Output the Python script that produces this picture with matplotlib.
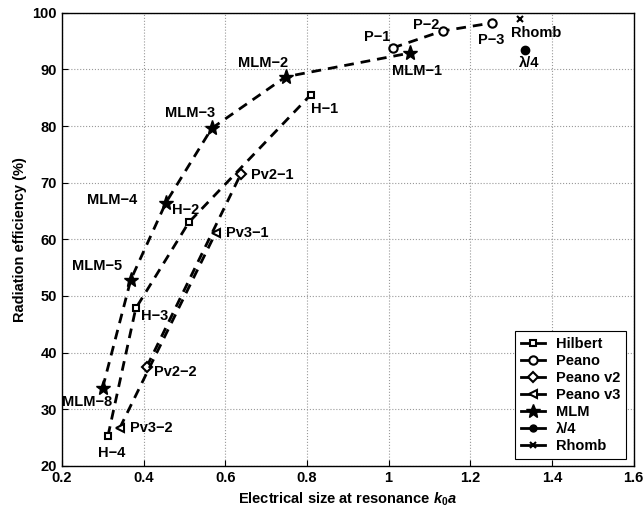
import matplotlib
matplotlib.use('Agg')
import matplotlib.pyplot as plt
from matplotlib.lines import Line2D

plt.rcParams['font.family'] = ['Liberation Sans', 'DejaVu Sans']
plt.rcParams['font.weight'] = 'bold'
plt.rcParams['mathtext.fontset'] = 'custom'
plt.rcParams['mathtext.it'] = 'Liberation Sans:italic:bold'
plt.rcParams['mathtext.rm'] = 'Liberation Sans:bold'

# data
hil_x = [0.313, 0.381, 0.511, 0.809]
hil_y = [25.3, 47.8, 63.0, 85.5]
pea_x = [1.010, 1.132, 1.252]
pea_y = [93.8, 96.8, 98.2]
pv2_x = [0.408, 0.638]
pv2_y = [37.5, 71.5]
pv3_x = [0.342, 0.577]
pv3_y = [26.7, 61.2]
mlm_x = [0.300, 0.369, 0.455, 0.567, 0.748, 1.052]
mlm_y = [33.8, 52.9, 66.5, 79.6, 88.7, 92.9]
lam_x = [1.333]
lam_y = [93.5]
rho_x = [1.321]
rho_y = [98.9]

# point labels
lbl_text = ['H\u22121', 'H\u22122', 'H\u22123', 'H\u22124',
            'P\u22121', 'P\u22122', 'P\u22123',
            'Pv2\u22121', 'Pv2\u22122', 'Pv3\u22121', 'Pv3\u22122',
            'MLM\u22121', 'MLM\u22122', 'MLM\u22123', 'MLM\u22124', 'MLM\u22125', 'MLM\u22128',
            '\u03bb/4', 'Rhomb']
lbl_x = [0.844, 0.503, 0.428, 0.322,
         0.971, 1.093, 1.252,
         0.714, 0.477, 0.653, 0.418,
         1.069, 0.692, 0.513, 0.322, 0.286, 0.261,
         1.343, 1.362]
lbl_y = [83.0, 65.1, 46.5, 22.3,
         95.8, 97.9, 95.2,
         71.3, 36.5, 61.1, 26.6,
         89.7, 91.2, 82.3, 66.9, 55.2, 31.3,
         91.2, 96.5]

fig = plt.figure(figsize=(6.44, 5.13), dpi=100)
ax = fig.add_axes([0.096, 0.092, 0.888, 0.883])

ls = dict(color='k', linestyle=(0, (3.5, 2.5)), linewidth=2)
ax.plot(hil_x, hil_y, marker='s', mfc='w', mec='k', ms=5, mew=1.5, **ls)
ax.plot(pea_x, pea_y, marker='o', mfc='w', mec='k', ms=6, mew=1.5, **ls)
ax.plot(pv2_x, pv2_y, marker='D', mfc='w', mec='k', ms=5, mew=1.5, **ls)
ax.plot(pv3_x, pv3_y, marker='<', mfc='w', mec='k', ms=6, mew=1.5, **ls)
ax.plot(mlm_x, mlm_y, marker='*', mfc='k', mec='k', ms=11, **ls)
ax.plot(lam_x, lam_y, marker='o', mfc='k', mec='k', ms=6, **ls)
ax.plot(rho_x, rho_y, marker='x', mfc='k', mec='k', ms=4, mew=1.5, **ls)

for t, x, y in zip(lbl_text, lbl_x, lbl_y):
    ax.text(x, y, t, ha='center', va='center', fontsize=10.5, fontweight='bold')

ax.set_xlim(0.2, 1.6)
ax.set_ylim(20, 100)
ax.set_xticks([0.2, 0.4, 0.6, 0.8, 1.0, 1.2, 1.4, 1.6])
ax.set_xticklabels(['0.2', '0.4', '0.6', '0.8', '1', '1.2', '1.4', '1.6'])
ax.set_yticks(range(20, 101, 10))
ax.tick_params(direction='in', labelsize=10.5, length=4)
ax.grid(True, linestyle=':', color='#999999', linewidth=0.8)
for s in ax.spines.values():
    s.set_linewidth(1.0)

ax.set_xlabel('Electrical size at resonance $k_0a$', fontsize=10.5, fontweight='bold')
ax.set_ylabel('Radiation efficiency (%)', fontsize=10.5, fontweight='bold')

handles = [
    Line2D([], [], color='k', lw=2, marker='s', mfc='w', mec='k', ms=5, mew=1.5),
    Line2D([], [], color='k', lw=2, marker='o', mfc='w', mec='k', ms=6, mew=1.5),
    Line2D([], [], color='k', lw=2, marker='D', mfc='w', mec='k', ms=5, mew=1.5),
    Line2D([], [], color='k', lw=2, marker='<', mfc='w', mec='k', ms=6, mew=1.5),
    Line2D([], [], color='k', lw=2, marker='*', mfc='k', mec='k', ms=10),
    Line2D([], [], color='k', lw=2, marker='o', mfc='k', mec='k', ms=5),
    Line2D([], [], color='k', lw=2, marker='x', mfc='k', mec='k', ms=4, mew=1.5),
]
names = ['Hilbert', 'Peano', 'Peano v2', 'Peano v3', 'MLM', '\u03bb/4', 'Rhomb']
leg = ax.legend(handles, names, loc='lower right', fontsize=10.5, fancybox=False,
                edgecolor='k', framealpha=1, handlelength=1.6, borderaxespad=0.5,
                labelspacing=0.2, handletextpad=0.8)
leg.get_frame().set_linewidth(0.8)

plt.savefig('out.png', dpi=100)
